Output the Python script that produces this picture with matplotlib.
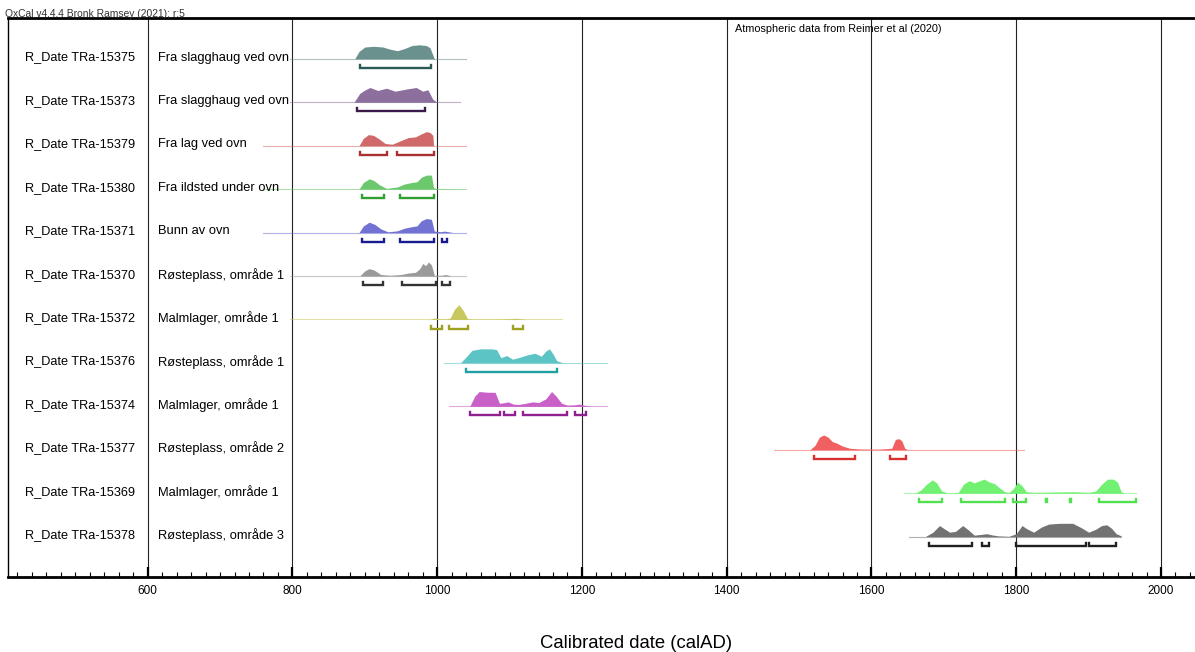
import matplotlib
matplotlib.use("Agg")
import matplotlib.pyplot as plt
from matplotlib.ticker import MultipleLocator

plt.rcParams['font.family'] = ['Liberation Sans', 'DejaVu Sans']

# Prøver og navn
labels = ["R_Date TRa-15375", "R_Date TRa-15373", "R_Date TRa-15379", "R_Date TRa-15380",
          "R_Date TRa-15371", "R_Date TRa-15370", "R_Date TRa-15372", "R_Date TRa-15376",
          "R_Date TRa-15374", "R_Date TRa-15377", "R_Date TRa-15369", "R_Date TRa-15378"]
names = ["Fra slagghaug ved ovn", "Fra slagghaug ved ovn", "Fra lag ved ovn",
         "Fra ildsted under ovn", "Bunn av ovn", "Røsteplass, område 1",
         "Malmlager, område 1", "Røsteplass, område 1", "Malmlager, område 1",
         "Røsteplass, område 2", "Malmlager, område 1", "Røsteplass, område 3"]

fill_colors = ["#6a918d", "#8d6f9e", "#d06a6a", "#6cc86c", "#7272d2", "#9a9a9a",
               "#c8c860", "#5cc4c4", "#c860c8", "#f06060", "#72f072", "#727272"]
range_colors = ["#2a5a55", "#3a1a4a", "#a83030", "#30a030", "#1a1a90", "#333333",
                "#a0a020", "#20a0a0", "#902090", "#d83030", "#50e050", "#202020"]

# Kalibrerte fordelinger (år, relativ sannsynlighet), lest av figuren
dist_years = [
    [886, 892, 900, 912, 925, 935, 945, 955, 965, 975, 985, 990, 996],
    [885, 893, 899, 907, 918, 930, 942, 958, 971, 980, 987, 994, 1000],
    [892, 898, 905, 912, 920, 928, 938, 950, 960, 970, 978, 985, 990, 994, 995],
    [892, 898, 906, 912, 920, 930, 945, 955, 965, 972, 978, 985, 992, 995, 1000, 1040],
    [892, 898, 906, 914, 922, 932, 945, 955, 965, 972, 978, 985, 992, 996, 1005, 1010, 1016, 1022],
    [893, 900, 906, 913, 922, 935, 950, 960, 970, 976, 980, 984, 988, 992, 996, 1005, 1012, 1020],
    [990, 996, 1002, 1012, 1018, 1024, 1030, 1036, 1042, 1050, 1080, 1100, 1108, 1115, 1122],
    [1032, 1040, 1048, 1060, 1075, 1082, 1088, 1096, 1104, 1112, 1125, 1135, 1144, 1150, 1155,
     1160, 1165, 1172, 1180],
    [1045, 1052, 1058, 1070, 1080, 1086, 1093, 1098, 1105, 1112, 1122, 1132, 1140, 1150, 1158,
     1164, 1172, 1180, 1190, 1197, 1205, 1215],
    [1515, 1522, 1528, 1534, 1540, 1546, 1552, 1560, 1570, 1585, 1610, 1628, 1633, 1638, 1642,
     1646, 1650],
    [1660, 1668, 1676, 1684, 1690, 1697, 1705, 1720, 1727, 1735, 1742, 1750, 1756, 1763, 1770,
     1776, 1784, 1790, 1796, 1802, 1808, 1814, 1825, 1850, 1880, 1900, 1910, 1918, 1926, 1934,
     1940, 1945, 1950],
    [1675, 1685, 1694, 1700, 1708, 1716, 1726, 1734, 1742, 1752, 1759, 1766, 1775, 1790, 1800,
     1808, 1814, 1824, 1835, 1845, 1860, 1878, 1890, 1900, 1910, 1918, 1925, 1932, 1938, 1945],
]
dist_probs = [
    [0, 0.5, 0.8, 0.85, 0.8, 0.65, 0.55, 0.7, 0.9, 0.95, 0.9, 0.75, 0],
    [0, 0.6, 0.8, 1.0, 0.8, 0.95, 0.75, 0.9, 1.0, 0.75, 0.85, 0.2, 0],
    [0, 0.5, 0.75, 0.7, 0.45, 0.15, 0.1, 0.35, 0.55, 0.6, 0.8, 0.95, 0.9, 0.7, 0],
    [0, 0.45, 0.7, 0.6, 0.3, 0.05, 0.15, 0.35, 0.45, 0.5, 0.8, 0.95, 0.95, 0.1, 0.03, 0],
    [0, 0.45, 0.7, 0.55, 0.25, 0.05, 0.12, 0.3, 0.4, 0.45, 0.8, 0.95, 0.9, 0.1, 0.06, 0.1, 0.05, 0],
    [0, 0.35, 0.5, 0.4, 0.1, 0.05, 0.1, 0.2, 0.25, 0.5, 0.85, 0.7, 0.95, 0.75, 0.05, 0.05, 0.1, 0],
    [0, 0.1, 0.05, 0.02, 0.1, 0.7, 1.0, 0.6, 0.05, 0.02, 0.02, 0.05, 0.08, 0.05, 0],
    [0, 0.4, 0.85, 0.95, 0.95, 0.9, 0.35, 0.5, 0.25, 0.35, 0.55, 0.65, 0.45, 0.8, 0.95, 0.6, 0.15,
     0.03, 0],
    [0, 0.7, 1.0, 0.95, 0.95, 0.2, 0.25, 0.3, 0.15, 0.12, 0.2, 0.3, 0.25, 0.5, 1.0, 0.7, 0.2, 0.08,
     0.1, 0.15, 0.05, 0],
    [0, 0.3, 0.85, 1.0, 0.85, 0.55, 0.45, 0.25, 0.1, 0.05, 0.04, 0.1, 0.7, 0.75, 0.6, 0.1, 0],
    [0, 0.2, 0.6, 0.9, 0.7, 0.15, 0.02, 0.05, 0.6, 0.85, 0.7, 0.85, 0.95, 0.75, 0.65, 0.4, 0.1, 0.05,
     0.3, 0.75, 0.5, 0.1, 0.05, 0.08, 0.1, 0.05, 0.15, 0.6, 0.95, 0.95, 0.75, 0.1, 0],
    [0.02, 0.3, 0.75, 0.55, 0.3, 0.35, 0.75, 0.45, 0.1, 0.15, 0.2, 0.12, 0.05, 0.02, 0.2, 0.75, 0.55,
     0.3, 0.65, 0.85, 0.9, 0.9, 0.6, 0.3, 0.5, 0.75, 0.8, 0.55, 0.2, 0.05],
]

# Utstrekning av tynn grunnlinje
line_start = [796, 796, 759, 759, 759, 796, 796, 1010, 1016, 1466, 1645, 1652]
line_end = [1040, 1031, 1040, 1040, 1040, 1040, 1172, 1235, 1235, 1811, 1965, 1945]

# 95.4 % intervaller
ranges = [
    [(893, 992)],
    [(889, 983)],
    [(893, 930), (944, 995)],
    [(896, 927), (948, 995)],
    [(896, 927), (948, 995), (1007, 1014)],
    [(897, 925), (952, 999), (1006, 1017)],
    [(992, 1007), (1016, 1043), (1105, 1118)],
    [(1040, 1166)],
    [(1045, 1087), (1092, 1107), (1119, 1180), (1191, 1206)],
    [(1521, 1577), (1625, 1648)],
    [(1666, 1697), (1724, 1784), (1795, 1814), (1841, 1843), (1874, 1876), (1915, 1966)],
    [(1680, 1739), (1753, 1763), (1800, 1897), (1901, 1938)],
]

fig = plt.figure(figsize=(11.95, 6.52), dpi=100)
ax = fig.add_axes([8 / 1195, 1 - 577 / 652, 1 - 8 / 1195, 559 / 652])

peak = 0.34    # høyde på fordelingene i radenheter
drop = 0.21    # avstand ned til intervallstrekene
tick_h = 0.07

for i in range(len(labels)):
    y = i
    ax.plot([line_start[i], line_end[i]], [y, y], color=fill_colors[i], lw=0.8, alpha=0.55, zorder=2)
    ys = [y - p * peak for p in dist_probs[i]]
    ax.fill_between(dist_years[i], y, ys, color=fill_colors[i], lw=0, zorder=3)
    for a, b in ranges[i]:
        yb = y + drop
        ax.plot([a, a, b, b], [yb - tick_h, yb, yb, yb - tick_h], color=range_colors[i],
                lw=1.7, solid_joinstyle='miter', zorder=3)
    ax.text(430, y - 0.03, labels[i], fontsize=9.2, va='center', ha='left')
    ax.text(614, y - 0.03, names[i], fontsize=9.3, va='center', ha='left')

ax.set_xlim(407, 2047)
ax.set_ylim(11.93, -0.94)

for yr in range(600, 2001, 200):
    ax.axvline(yr, color='#222222', lw=0.8, zorder=1)

ax.xaxis.set_major_locator(MultipleLocator(200))
ax.xaxis.set_minor_locator(MultipleLocator(20))
ax.tick_params(axis='x', which='major', direction='in', length=7, width=1.6, labelsize=8.5, pad=6)
ax.tick_params(axis='x', which='minor', direction='in', length=3.6, width=0.8)
ax.set_yticks([])

ax.spines['right'].set_visible(False)
ax.spines['top'].set_linewidth(2)
ax.spines['bottom'].set_linewidth(2)
ax.spines['left'].set_linewidth(1)

ax.text(1411, -0.68, "Atmospheric data from Reimer et al (2020)", fontsize=7.8, va='center', ha='left')
fig.text(5 / 1195, 1 - 14 / 652, "OxCal v4.4.4 Bronk Ramsey (2021); r:5", fontsize=7.4,
         va='center', ha='left', color='#333333')
fig.text(636 / 1195, 1 - 643 / 652, "Calibrated date (calAD)", fontsize=13.3, va='center', ha='center')

fig.savefig("out.png", dpi=100)
